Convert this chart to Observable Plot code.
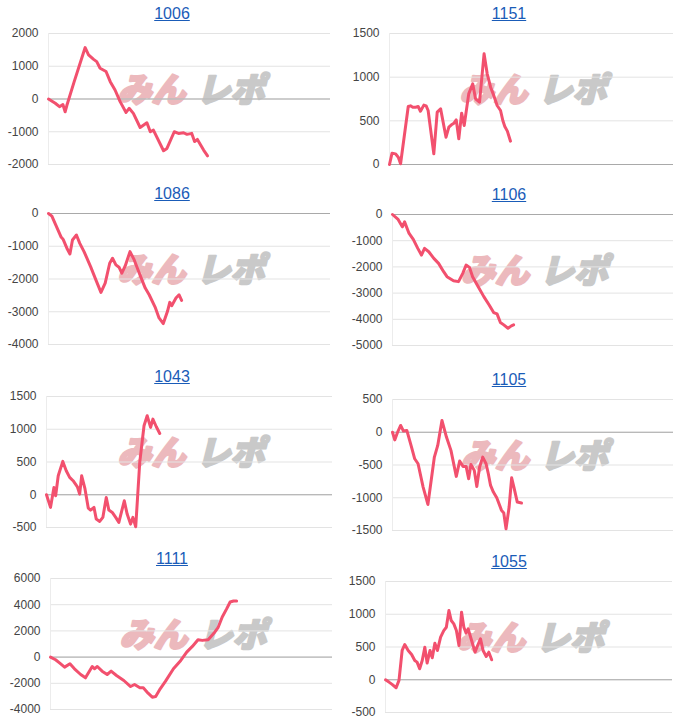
<!DOCTYPE html>
<html>
<head>
<meta charset="utf-8">
<script src="https://cdn.jsdelivr.net/npm/d3@7"></script>
<script src="https://cdn.jsdelivr.net/npm/@observablehq/plot@0.6"></script>
<style>
  html, body { margin: 0; padding: 0; background: #fff; }
  #root { position: relative; width: 681px; height: 723px; font-family: Arial, "Liberation Sans", sans-serif; }
  .cell { position: absolute; }
  .title { position: absolute; top: 0; height: 20px; line-height: 20px; text-align: center; font-size: 16px; }
  .title a { color: #1a5cb8; text-decoration: underline; }
  .cell svg { position: absolute; top: 20px; left: 0; }
</style>
</head>
<body>
<div id="root"></div>
<script>
// ---- data (x = progress index on a 0–100 scale, y = balance) ----
const titles = ["1006", "1151", "1086", "1106", "1043", "1105", "1111", "1055"];

const s1006 = [[0,0],[2.4,-130],[3.9,-235],[5.1,-170],[5.9,-390],[6.5,-200],[9,500],[13,1570],[14.2,1350],[16,1210],[17.1,1140],[18.3,940],[20.4,840],[21.9,530],[23.6,275],[25.4,-80],[27.5,-410],[28.6,-285],[30.1,-440],[32.5,-870],[34.9,-725],[36.1,-1000],[37.2,-950],[40.8,-1580],[42,-1510],[44.6,-1000],[46.1,-1050],[47.9,-1030],[49.1,-1080],[50.8,-1050],[51.8,-1300],[52.8,-1235],[55,-1560],[56.4,-1735]];

const s1151 = [[0,0],[0.9,130],[2.1,122],[3.1,84],[3.9,8],[6.6,664],[7.4,672],[8.2,656],[9.2,656],[10.1,664],[10.9,610],[12.1,680],[12.9,672],[13.6,618],[15.6,122],[16.8,600],[18,637],[19.9,313],[20.9,427],[21.8,454],[22.7,473],[23.5,511],[24.4,294],[25.4,588],[26.3,447],[27.9,809],[29.3,924],[30.3,752],[31.7,714],[33.3,1267],[34.4,1038],[35.6,885],[36.5,809],[37.9,676],[39.1,618],[39.9,504],[40.6,435],[41.5,382],[42.6,267]];

const s1086 = [[0,0],[1.2,-80],[2.6,-354],[4.4,-709],[5.2,-790],[6.7,-1094],[7.6,-1235],[8.5,-810],[9.9,-658],[11.1,-911],[12.6,-1165],[13.5,-1337],[15,-1640],[16.8,-2025],[18.6,-2410],[20.1,-2127],[21.7,-1519],[22.7,-1367],[23.9,-1570],[25,-1640],[26,-1823],[27.2,-1600],[28.9,-1165],[30.4,-1418],[32.2,-1823],[34.3,-2278],[35.7,-2481],[37.8,-2856],[39.2,-3190],[40.7,-3362],[42.2,-2987],[43,-2714],[43.7,-2815],[45.2,-2582],[46.3,-2481],[47.2,-2653]];

const s1106 = [[0,0],[2,-190],[3.5,-470],[4.3,-280],[5.9,-723],[7.4,-952],[9,-1294],[10.3,-1548],[11.4,-1294],[12.9,-1421],[14.7,-1675],[16.4,-1865],[18.2,-2183],[19.4,-2373],[21.7,-2525],[23.5,-2563],[25,-2246],[26.2,-1929],[27.4,-2018],[28.5,-2373],[30.5,-2754],[32.5,-3135],[34.4,-3452],[36,-3744],[37.2,-3794],[38.4,-4124],[39.6,-4213],[41.1,-4340],[42.3,-4251],[43.1,-4213]];

const s1043 = [[0,0],[1.4,-193],[2.6,112],[3.2,-15],[4.1,290],[5.7,509],[6.9,366],[8.1,265],[9.3,214],[10.8,122],[11.6,10],[12.3,290],[13.4,102],[14.6,-204],[15.4,-234],[16.6,-193],[17.4,-372],[18.6,-407],[19.7,-346],[20.9,-41],[21.8,-234],[23,-270],[24.2,-346],[25.3,-422],[27.2,-92],[28.2,-295],[29.4,-448],[30.2,-346],[31.2,-489],[32.6,494],[34.1,1053],[35.2,1206],[36.4,1028],[37.2,1155],[38.4,1038],[39.6,936]];

const s1105 = [[0,0],[0.8,-117],[1.8,0],[2.9,104],[3.9,18],[5.1,28],[6.7,-216],[7.9,-405],[9.1,-481],[10.9,-837],[12.6,-1102],[14.9,-379],[16.1,-201],[17.6,181],[19.2,-74],[20.8,-277],[22.7,-674],[23.9,-440],[25.1,-521],[26.2,-521],[27.1,-710],[27.9,-491],[29.1,-582],[30,-827],[31,-531],[32.1,-379],[33.3,-481],[34.1,-633],[34.9,-812],[35.9,-913],[37.1,-1000],[38.8,-1193],[39.6,-1234],[40.4,-1473],[41.5,-1142],[42.4,-695],[43.2,-837],[44.4,-1066],[45.9,-1081]];

const s1111 = [[0,0],[1.8,-204],[3.3,-459],[5,-765],[6.9,-510],[8.5,-893],[10.7,-1327],[12.4,-1582],[14.8,-714],[15.6,-893],[16.6,-714],[18.3,-1071],[20.1,-1327],[21.5,-1071],[23.4,-1403],[26,-1786],[28.4,-2245],[29.8,-2092],[31.7,-2347],[32.9,-2347],[34.6,-2755],[36.1,-3061],[37.3,-3010],[38.9,-2423],[40.8,-1837],[43.6,-893],[46.2,-255],[48.3,383],[50.3,816],[52.3,1327],[53.8,1276],[55.9,1327],[58,1837],[59.4,2245],[60.9,3061],[62.5,3699],[63.7,4209],[64.9,4286],[66,4286]];

const s1055 = [[0,0],[1.2,-36],[2.3,-71],[3.7,-122],[4.7,-10],[5.8,447],[6.7,538],[7.9,447],[9.1,386],[10.2,294],[11,269],[11.9,168],[12.8,294],[13.7,497],[14.5,254],[15.5,447],[16.3,335],[17.2,558],[18.1,447],[19.2,650],[20.3,751],[21.2,802],[22.1,1056],[22.9,904],[23.8,853],[24.7,751],[25.6,523],[26.5,1031],[27.3,802],[28.1,711],[28.8,777],[30,599],[31.2,421],[32.1,523],[33.1,624],[34,447],[35.1,355],[36,421],[37,305]];

const seriesList = [s1006, s1151, s1086, s1106, s1043, s1105, s1111, s1055];

const yDomains = [[-2000,2000],[0,1500],[-4000,0],[-5000,0],[-500,1500],[-1500,500],[-4000,6000],[-500,1500]];
const yTicks = [
  [-2000,-1000,0,1000,2000],
  [0,500,1000,1500],
  [-4000,-3000,-2000,-1000,0],
  [-5000,-4000,-3000,-2000,-1000,0],
  [-500,0,500,1000,1500],
  [-1500,-1000,-500,0,500],
  [-4000,-2000,0,2000,4000,6000],
  [-500,0,500,1000,1500]
];
const watermark = ["みん", "レポ"];

// ---- layout (not data) ----
const layout = [
  {col:0, plotTop:33,  ml:48, mr:10},
  {col:1, plotTop:33,  ml:49, mr:8},
  {col:0, plotTop:213, ml:48, mr:10},
  {col:1, plotTop:214, ml:52, mr:8},
  {col:0, plotTop:396, ml:46, mr:8},
  {col:1, plotTop:399, ml:52, mr:8},
  {col:0, plotTop:578, ml:50, mr:8},
  {col:1, plotTop:581, ml:45, mr:9}
];
const colX = [0, 340];
const colW = [340, 341];
const titleBox = [{left:0, width:344}, {left:-6, width:350}];
const MT = 9, PH = 131, MB = 12;

const root = document.getElementById("root");

seriesList.forEach((data, i) => {
  const L = layout[i];
  const cell = document.createElement("div");
  cell.className = "cell";
  cell.style.left = colX[L.col] + "px";
  cell.style.top = (L.plotTop - MT - 20) + "px";
  cell.style.width = colW[L.col] + "px";
  cell.style.height = (20 + MT + PH + MB) + "px";

  const t = document.createElement("div");
  t.className = "title";
  t.style.left = titleBox[L.col].left + "px";
  t.style.width = titleBox[L.col].width + "px";
  const a = document.createElement("a");
  a.href = "#";
  a.textContent = titles[i];
  t.appendChild(a);
  cell.appendChild(t);

  const wmStyle = {frameAnchor: "middle", dy: -8, fontSize: 34, fontWeight: 900, fontStyle: "italic",
    strokeWidth: 2.2, strokeLinejoin: "round", fontFamily: '"Noto Sans CJK JP", sans-serif'};

  const chart = Plot.plot({
    width: colW[L.col],
    height: MT + PH + MB,
    marginTop: MT,
    marginBottom: MB,
    marginLeft: L.ml,
    marginRight: L.mr,
    style: {fontFamily: 'Arial, "Liberation Sans", sans-serif', background: "transparent", overflow: "visible"},
    x: {domain: [0, 100], axis: null},
    y: {domain: yDomains[i], axis: null},
    marks: [
      Plot.text([watermark[0]], {...wmStyle, text: d => d, dx: -38, fill: "#ecb9bd", stroke: "#ecb9bd"}),
      Plot.text([watermark[1]], {...wmStyle, text: d => d, dx: 41, fill: "#c9c9c9", stroke: "#c9c9c9"}),
      Plot.gridY(yTicks[i], {stroke: "#e3e3e3", strokeOpacity: 1}),
      Plot.ruleX([0], {stroke: "#ececec"}),
      Plot.ruleY([0], {stroke: "#a9a9a9"}),
      Plot.axisY(yTicks[i], {tickSize: 0, tickPadding: 10, fontSize: 12, fill: "#444",
        tickFormat: d => String(d)}),
      Plot.line(data, {x: d => d[0], y: d => d[1], stroke: "#f2506e", strokeWidth: 3,
        strokeLinejoin: "round", strokeLinecap: "round"})
    ]
  });
  cell.appendChild(chart);
  root.appendChild(cell);
});
</script>
</body>
</html>
